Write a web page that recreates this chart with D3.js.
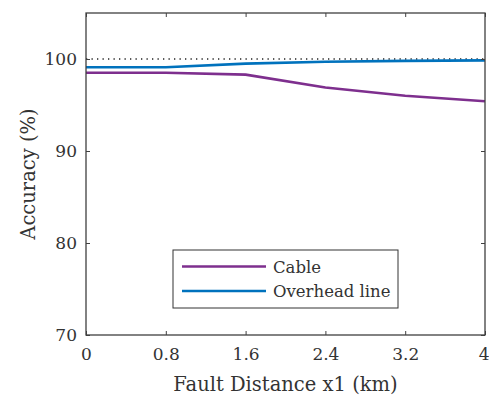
<!DOCTYPE html>
<html>
<head>
<meta charset="utf-8">
<script src="https://cdn.jsdelivr.net/npm/d3@7"></script>
<style>
  body { margin: 0; background: #fff; }
</style>
</head>
<body>
<div id="chart"></div>
<script>
// Accuracy vs fault distance
const distances = [0, 0.8, 1.6, 2.4, 3.2, 4];
const cable = [98.5, 98.5, 98.3, 96.9, 96.0, 95.4];
const overhead = [99.1, 99.1, 99.5, 99.7, 99.8, 99.85];
const xTicks = [0, 0.8, 1.6, 2.4, 3.2, 4];
const yTicks = [70, 80, 90, 100];
const seriesNames = ["Cable", "Overhead line"];
const seriesColors = ["#7E2F8E", "#0072BD"];

const width = 489, height = 403;
const margin = { top: 13, right: 4, bottom: 68, left: 86 };
const plotW = width - margin.left - margin.right;
const plotH = height - margin.top - margin.bottom;
const serif = "'DejaVu Serif', serif";

const svg = d3.select("#chart").append("svg")
  .attr("width", width)
  .attr("height", height)
  .style("font-family", serif);

const g = svg.append("g")
  .attr("transform", `translate(${margin.left},${margin.top})`);

const x = d3.scaleLinear().domain([0, 4]).range([0, plotW]);
const y = d3.scaleLinear().domain([70, 105]).range([plotH, 0]);

const axisColor = "#404040";

// reference line at 100%
g.append("line")
  .attr("x1", x(0)).attr("x2", x(4))
  .attr("y1", y(100)).attr("y2", y(100))
  .attr("stroke", "#222")
  .attr("stroke-width", 1.3)
  .attr("stroke-dasharray", "1.3,4.2");

// data lines
const line = d3.line()
  .x((d, i) => x(distances[i]))
  .y(d => y(d));

[cable, overhead].forEach((s, k) => {
  g.append("path")
    .datum(s)
    .attr("fill", "none")
    .attr("stroke", seriesColors[k])
    .attr("stroke-width", 2.6)
    .attr("stroke-linejoin", "round")
    .attr("d", line);
});

// axes (ticks inward, mirrored on top/right)
function styleAxis(sel) {
  sel.attr("font-family", null);
  sel.select(".domain").remove();
  sel.selectAll(".tick line").attr("stroke", axisColor).attr("stroke-width", 1);
  sel.selectAll(".tick text")
    .style("font-family", serif)
    .attr("font-size", 17)
    .attr("fill", "#333");
}

const xAxisG = g.append("g")
  .attr("transform", `translate(0,${plotH})`)
  .call(d3.axisBottom(x).tickValues(xTicks).tickFormat(d3.format("")).tickSizeInner(-4).tickSizeOuter(0).tickPadding(13))
  .call(styleAxis);

// keep the last label inside the window
xAxisG.selectAll(".tick text").filter(d => d === 4)
  .attr("text-anchor", "end")
  .attr("dx", 4);

g.append("g")
  .call(d3.axisTop(x).tickValues(xTicks).tickSizeInner(-4).tickSizeOuter(0).tickFormat(""))
  .call(styleAxis);

g.append("g")
  .call(d3.axisLeft(y).tickValues(yTicks).tickSizeInner(-4).tickSizeOuter(0).tickPadding(9))
  .call(styleAxis);

g.append("g")
  .attr("transform", `translate(${plotW},0)`)
  .call(d3.axisRight(y).tickValues(yTicks).tickSizeInner(-4).tickSizeOuter(0).tickFormat(""))
  .call(styleAxis);

// box
g.append("rect")
  .attr("width", plotW).attr("height", plotH)
  .attr("fill", "none")
  .attr("stroke", axisColor)
  .attr("stroke-width", 1.3);

// axis titles
svg.append("text")
  .attr("x", margin.left + plotW / 2)
  .attr("y", 391)
  .attr("text-anchor", "middle")
  .attr("font-size", 19.5)
  .attr("fill", "#333")
  .text("Fault Distance x1 (km)");

svg.append("text")
  .attr("transform", `translate(35,${margin.top + plotH / 2}) rotate(-90)`)
  .attr("text-anchor", "middle")
  .attr("font-size", 19.5)
  .attr("fill", "#333")
  .text("Accuracy (%)");

// legend
const legend = svg.append("g").attr("transform", "translate(173,250)");
legend.append("rect")
  .attr("width", 225).attr("height", 58)
  .attr("fill", "#fff")
  .attr("stroke", "#333")
  .attr("stroke-width", 1);

seriesNames.forEach((name, i) => {
  const ly = 16.5 + i * 24.5;
  legend.append("line")
    .attr("x1", 9).attr("x2", 93)
    .attr("y1", ly).attr("y2", ly)
    .attr("stroke", seriesColors[i])
    .attr("stroke-width", 2.6);
  legend.append("text")
    .attr("x", 100).attr("y", ly + 6)
    .attr("font-size", 16.5)
    .attr("fill", "#333")
    .text(name);
});
</script>
</body>
</html>
